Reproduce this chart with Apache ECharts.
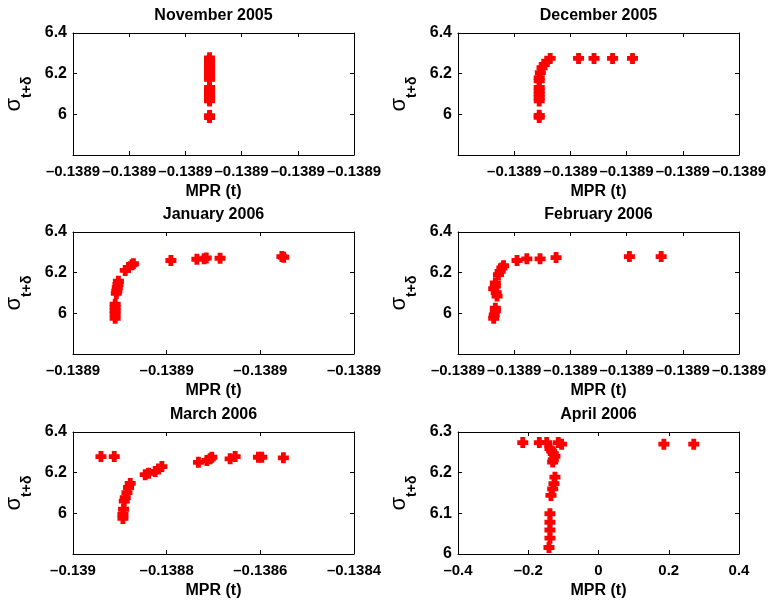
<!DOCTYPE html>
<html lang="en">
<head>
<meta charset="UTF-8">
<title>MPR (t)</title>
<script src="https://cdn.jsdelivr.net/npm/echarts@6/dist/echarts.min.js"></script>
<style>
  body { margin: 0; background: #fff; }
  #main { width: 774px; height: 600px; }
</style>
</head>
<body>
<div id="main"></div>
<script>
  var titles = ['November 2005', 'December 2005', 'January 2006', 'February 2006', 'March 2006', 'April 2006'];

  // [MPR(t), sigma] pairs
  var nov = [
    [-0.13890514, 6.278], [-0.13890514, 6.268], [-0.13890514, 6.258], [-0.13890514, 6.245],
    [-0.13890514, 6.232], [-0.13890514, 6.220], [-0.13890514, 6.208], [-0.13890514, 6.196],
    [-0.13890514, 6.184], [-0.13890514, 6.172], [-0.13890514, 6.132], [-0.13890514, 6.120],
    [-0.13890514, 6.108], [-0.13890514, 6.096], [-0.13890514, 6.084], [-0.13890514, 6.072],
    [-0.13890514, 6.066], [-0.13890514, 5.994], [-0.13890514, 5.984]
  ];
  var dec = [
    [-0.13890711, 6.132], [-0.13890711, 6.115], [-0.13890711, 6.099], [-0.13890711, 6.083],
    [-0.13890711, 6.066], [-0.13890711, 5.995], [-0.13890711, 5.985], [-0.13890711, 6.165],
    [-0.13890711, 6.180], [-0.13890707, 6.205], [-0.13890701, 6.229], [-0.13890693, 6.245],
    [-0.13890684, 6.261], [-0.13890672, 6.275], [-0.13890571, 6.275], [-0.13890516, 6.275],
    [-0.13890450, 6.275], [-0.13890379, 6.275]
  ];
  var jan = [
    [-0.13890620, 6.045], [-0.13890620, 6.029], [-0.13890620, 6.013], [-0.13890620, 5.997],
    [-0.13890620, 5.976], [-0.13890606, 6.158], [-0.13890608, 6.142], [-0.13890611, 6.126],
    [-0.13890613, 6.109], [-0.13890615, 6.098], [-0.13890577, 6.211], [-0.13890563, 6.226],
    [-0.13890548, 6.239], [-0.13890542, 6.244], [-0.13890382, 6.260], [-0.13890271, 6.266],
    [-0.13890240, 6.269], [-0.13890231, 6.272], [-0.13890172, 6.271], [-0.13889908, 6.279],
    [-0.13889900, 6.276]
  ];
  var feb = [
    [-0.13890873, 5.976], [-0.13890871, 5.992], [-0.13890867, 6.013], [-0.13890867, 6.025],
    [-0.13890867, 6.150], [-0.13890867, 6.134], [-0.13890873, 6.121], [-0.13890864, 6.102],
    [-0.13890861, 6.085], [-0.13890856, 6.190], [-0.13890850, 6.206], [-0.13890844, 6.223],
    [-0.13890838, 6.234], [-0.13890790, 6.260], [-0.13890755, 6.268], [-0.13890708, 6.268],
    [-0.13890651, 6.274], [-0.13890390, 6.279], [-0.13890277, 6.279]
  ];
  var mar = [
    [-0.1389403, 6.279], [-0.1389119, 6.279], [-0.1388934, 5.975], [-0.1388934, 5.995],
    [-0.1388921, 6.020], [-0.1388905, 6.060], [-0.1388884, 6.077], [-0.1388848, 6.102],
    [-0.1388814, 6.127], [-0.1388778, 6.147], [-0.1388458, 6.190], [-0.1388387, 6.197],
    [-0.1388245, 6.206], [-0.1388174, 6.218], [-0.1388102, 6.230], [-0.1387321, 6.251],
    [-0.1387142, 6.260], [-0.1387071, 6.268], [-0.1387035, 6.276], [-0.1386645, 6.268],
    [-0.1386538, 6.279], [-0.1386041, 6.276], [-0.1385969, 6.276], [-0.1385508, 6.273]
  ];
  var apr = [
    [-0.2156, 6.274], [-0.1685, 6.274], [-0.1475, 6.274], [-0.1146, 6.274], [-0.1050, 6.270],
    [-0.1382, 6.259], [-0.1333, 6.253], [-0.1288, 6.247], [-0.1240, 6.240], [-0.1288, 6.232],
    [-0.1305, 6.226], [-0.1240, 6.189], [-0.1268, 6.173], [-0.1305, 6.160], [-0.1353, 6.144],
    [-0.1382, 6.099], [-0.1382, 6.078], [-0.1382, 6.059], [-0.1382, 6.039], [-0.1410, 6.016],
    [0.1861, 6.270], [0.2712, 6.270]
  ];
  var panelData = [nov, dec, jan, feb, mar, apr];

  // axis ranges [min, max, interval]
  var xRanges = [
    [-0.13891, -0.13890, 0.000002],
    [-0.13891, -0.13890, 0.000002],
    [-0.138908, -0.138896, 0.000004],
    [-0.13891, -0.13890, 0.000002],
    [-0.139, -0.1384, 0.0002],
    [-0.4, 0.4, 0.2]
  ];
  var yRanges = [
    [5.8, 6.4, 0.2], [5.8, 6.4, 0.2], [5.8, 6.4, 0.2],
    [5.8, 6.4, 0.2], [5.8, 6.4, 0.2], [6, 6.3, 0.1]
  ];
  var hideMinX = [false, true, false, false, false, false];
  var hideMinY = [true, true, true, true, true, false];

  var font = '"Liberation Sans", Arial, Helvetica, sans-serif';
  var plus = 'path://M2.8,0L7.2,0L7.2,2.8L10,2.8L10,7.2L7.2,7.2L7.2,10L2.8,10L2.8,7.2L0,7.2L0,2.8L2.8,2.8Z';
  var lefts = [73, 458];
  var tops = [33, 232, 432];
  var W = 281, H = 122;

  function fmt(v) {
    return String(parseFloat(v.toFixed(4))).replace('-', '\u2013');
  }

  var grids = [], xAxes = [], yAxes = [], series = [], graphics = [];
  var line = { show: true, onZero: false, lineStyle: { color: '#000', width: 1 } };
  var tick = { show: true, inside: true, length: 4, lineStyle: { color: '#000', width: 1 } };

  panelData.forEach(function (data, i) {
    var L = lefts[i % 2], T = tops[Math.floor(i / 2)];
    grids.push({ left: L, top: T, width: W, height: H });
    var xr = xRanges[i], yr = yRanges[i];
    xAxes.push({
      type: 'value', gridIndex: i, position: 'bottom',
      min: xr[0], max: xr[1], interval: xr[2],
      axisLine: line, axisTick: tick, splitLine: { show: false },
      axisLabel: {
        formatter: fmt, margin: 9, color: '#000', fontFamily: font,
        fontWeight: 'bold', fontSize: 15, hideOverlap: false,
        showMinLabel: !hideMinX[i], showMaxLabel: true
      },
      name: 'MPR (t)', nameLocation: 'middle', nameGap: 29,
      nameTextStyle: { color: '#000', fontFamily: font, fontWeight: 'bold', fontSize: 16 }
    });
    xAxes.push({
      type: 'value', gridIndex: i, position: 'top',
      min: xr[0], max: xr[1], interval: xr[2],
      axisLine: line, axisTick: tick, splitLine: { show: false },
      axisLabel: { show: false }
    });
    yAxes.push({
      type: 'value', gridIndex: i, position: 'left',
      min: yr[0], max: yr[1], interval: yr[2],
      axisLine: line, axisTick: tick, splitLine: { show: false },
      axisLabel: {
        formatter: fmt, margin: 6, color: '#000', fontFamily: font,
        fontWeight: 'bold', fontSize: 16, hideOverlap: false,
        showMinLabel: !hideMinY[i], showMaxLabel: true
      },
      name: '{s|\u03c3}{b|t+\u03b4}', nameLocation: 'middle', nameRotate: 90, nameGap: 39,
      nameTextStyle: {
        color: '#000',
        rich: {
          s: { fontFamily: font, fontSize: 22, color: '#000', verticalAlign: 'bottom', padding: [0, 0, 9, 0] },
          b: { fontFamily: font, fontSize: 14, fontWeight: 'bold', color: '#000', verticalAlign: 'bottom' }
        }
      }
    });
    yAxes.push({
      type: 'value', gridIndex: i, position: 'right',
      min: yr[0], max: yr[1], interval: yr[2],
      axisLine: line, axisTick: tick, splitLine: { show: false },
      axisLabel: { show: false }
    });
    series.push({
      type: 'scatter', xAxisIndex: 2 * i, yAxisIndex: 2 * i,
      data: data, symbol: plus, symbolSize: 11,
      itemStyle: { color: '#ff0000', opacity: 1 }, silent: true
    });
    graphics.push({
      type: 'text', x: L + W / 2, y: T - 17,
      style: {
        text: titles[i], fill: '#000', textAlign: 'center', textVerticalAlign: 'middle',
        font: 'bold 16px ' + font
      }
    });
  });

  var chart = echarts.init(document.getElementById('main'), null, { renderer: 'canvas' });
  chart.setOption({
    animation: false,
    backgroundColor: '#fff',
    grid: grids,
    xAxis: xAxes,
    yAxis: yAxes,
    series: series,
    graphic: graphics
  });
</script>
</body>
</html>
